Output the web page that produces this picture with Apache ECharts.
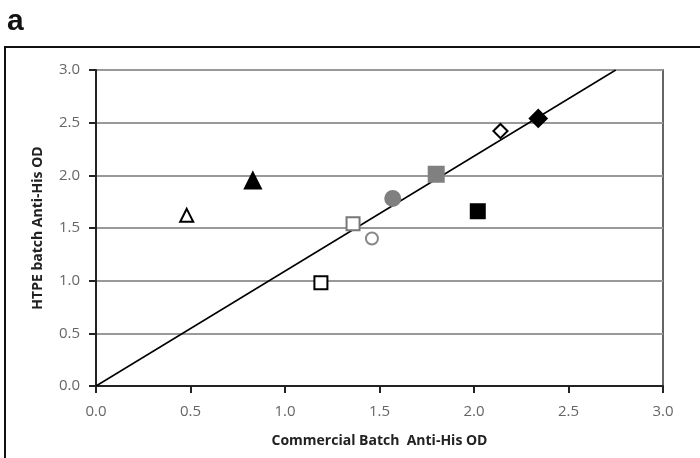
<!DOCTYPE html>
<html>
<head>
<meta charset="utf-8">
<script src="https://cdn.jsdelivr.net/npm/echarts@6/dist/echarts.min.js"></script>
<style>
  html, body { margin: 0; padding: 0; background: #fff; }
  #chart { width: 700px; height: 458px; }
</style>
</head>
<body>
<div id="chart"></div>
<script>
  // values
  const commercialOD = [0.48, 0.83, 1.19, 1.36, 1.46, 1.57, 1.80, 2.02, 2.14, 2.34];
  const htpeOD = [1.62, 1.95, 0.98, 1.54, 1.40, 1.78, 2.01, 1.66, 2.42, 2.54];
  const fitX = [0, 2.75];
  const fitY = [0, 3.0];

  // marker look for each point
  const markers = [
    { symbol: "triangle", size: 13, fill: "#fff", border: "#000" },
    { symbol: "triangle", size: 16, fill: "#000", border: "#000" },
    { symbol: "rect", size: 13, fill: "#fff", border: "#000" },
    { symbol: "rect", size: 13, fill: "#fff", border: "#777" },
    { symbol: "circle", size: 12, fill: "#fff", border: "#888" },
    { symbol: "circle", size: 15, fill: "#808080", border: "#808080" },
    { symbol: "rect", size: 15, fill: "#808080", border: "#808080" },
    { symbol: "rect", size: 14, fill: "#000", border: "#000" },
    { symbol: "rect", size: 10, fill: "#fff", border: "#000", rotate: 45 },
    { symbol: "rect", size: 12, fill: "#000", border: "#000", rotate: 45 },
  ];

  const chart = echarts.init(document.getElementById("chart"));

  const pointSeries = commercialOD.map((x, i) => ({
    type: "scatter",
    data: [[x, htpeOD[i]]],
    symbol: markers[i].symbol,
    symbolSize: markers[i].size,
    symbolRotate: markers[i].rotate || 0,
    itemStyle: {
      color: markers[i].fill,
      borderColor: markers[i].border,
      borderWidth: 2,
      opacity: 1,
    },
    z: 5,
  }));

  const options = {
    animation: false,
    textStyle: { fontFamily: "Open Sans" },
    graphic: [
      {
        type: "text",
        left: 7,
        top: 7,
        style: { text: "a", font: "bold 30px 'Liberation Sans'", fill: "#111" },
      },
      {
        type: "rect",
        shape: { x: 5, y: 47, width: 720, height: 440 },
        style: { fill: "none", stroke: "#111", lineWidth: 2 },
      },
    ],
    grid: {
      left: 96,
      right: 37,
      top: 70,
      bottom: 72,
      show: true,
      borderColor: "#333",
      borderWidth: 1.5,
    },
    xAxis: {
      type: "value",
      min: 0,
      max: 3,
      interval: 0.5,
      name: "Commercial Batch  Anti-His OD",
      nameLocation: "middle",
      nameGap: 48,
      nameTextStyle: { fontWeight: "bold", fontSize: 14, color: "#222" },
      axisLine: { show: true, lineStyle: { color: "#222", width: 2 } },
      axisTick: { show: true, length: 7, lineStyle: { color: "#222", width: 2 } },
      axisLabel: {
        fontSize: 15,
        color: "#666",
        margin: 18,
        formatter: (v) => v.toFixed(1),
      },
      splitLine: { show: false },
    },
    yAxis: {
      type: "value",
      min: 0,
      max: 3,
      interval: 0.5,
      name: "HTPE batch Anti-His OD",
      nameLocation: "middle",
      nameGap: 51,
      nameTextStyle: { fontWeight: "bold", fontSize: 14, color: "#222" },
      axisLine: { show: true, lineStyle: { color: "#222", width: 2 } },
      axisTick: { show: true, length: 7, lineStyle: { color: "#222", width: 2 } },
      axisLabel: {
        fontSize: 15,
        color: "#666",
        margin: 16,
        formatter: (v) => v.toFixed(1),
      },
      splitLine: { show: true, lineStyle: { color: "#999", width: 2 } },
    },
    series: [
      {
        type: "line",
        data: fitX.map((x, i) => [x, fitY[i]]),
        symbol: "none",
        lineStyle: { color: "#000", width: 1.5 },
        z: 3,
      },
      ...pointSeries,
    ],
  };

  chart.setOption(options);
</script>
</body>
</html>
